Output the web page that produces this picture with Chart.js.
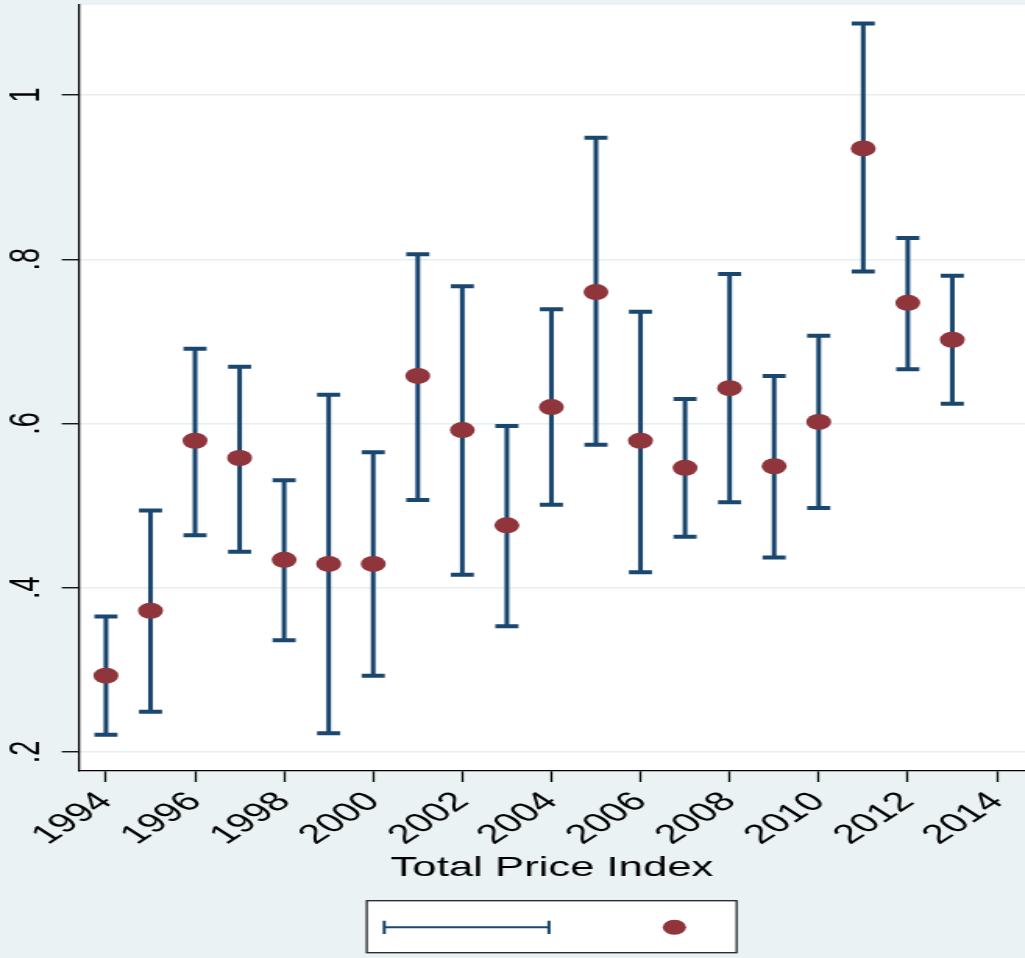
<!DOCTYPE html>
<html>
<head>
<meta charset="utf-8">
<script src="https://cdn.jsdelivr.net/npm/chart.js@4/dist/chart.umd.min.js"></script>
<style>
  html, body { margin: 0; padding: 0; background: #eaf2f3; overflow: hidden; }
  #wrap { width: 657px; height: 958px; transform: scaleX(1.56); transform-origin: 0 0; }
</style>
</head>
<body>
<div id="wrap"><canvas id="chart" width="657" height="958"></canvas></div>
<script>
// estimates by year, with upper / lower interval ends
const years = [1994, 1995, 1996, 1997, 1998, 1999, 2000, 2001, 2002, 2003,
  2004, 2005, 2006, 2007, 2008, 2009, 2010, 2011, 2012, 2013];
const estimate = [0.293, 0.372, 0.579, 0.558, 0.434, 0.429, 0.429, 0.658, 0.592, 0.476,
  0.620, 0.760, 0.579, 0.546, 0.643, 0.548, 0.602, 0.935, 0.747, 0.702];
const upper = [0.365, 0.494, 0.691, 0.669, 0.531, 0.635, 0.565, 0.806, 0.767, 0.597,
  0.739, 0.948, 0.736, 0.630, 0.782, 0.658, 0.707, 1.087, 0.826, 0.780];
const lower = [0.221, 0.249, 0.464, 0.444, 0.336, 0.223, 0.293, 0.507, 0.416, 0.353,
  0.501, 0.574, 0.419, 0.462, 0.504, 0.437, 0.497, 0.785, 0.666, 0.624];

const xTicks = [1994, 1996, 1998, 2000, 2002, 2004, 2006, 2008, 2010, 2012, 2014];
const yTicks = [0.2, 0.4, 0.6, 0.8, 1];
const yTickLabels = [".2", ".4", ".6", ".8", "1"];

const navy = "#1a476f";
const maroon = "#90353b";
const font = "'Liberation Sans', Arial, Helvetica, sans-serif";

const plotBg = {
  id: 'plotBg',
  beforeDraw(chart) {
    const {ctx, chartArea: a} = chart;
    ctx.save();
    ctx.fillStyle = "#ffffff";
    ctx.fillRect(a.left, a.top, a.right - a.left, a.bottom - a.top);
    ctx.restore();
  }
};

const errorBars = {
  id: 'errorBars',
  beforeDatasetsDraw(chart) {
    const {ctx, scales: {x, y}} = chart;
    ctx.save();
    ctx.strokeStyle = navy;
    for (let i = 0; i < years.length; i++) {
      const px = x.getPixelForValue(years[i]);
      const top = y.getPixelForValue(upper[i]);
      const bot = y.getPixelForValue(lower[i]);
      ctx.lineWidth = 3;
      ctx.beginPath();
      ctx.moveTo(px, top);
      ctx.lineTo(px, bot);
      ctx.stroke();
      ctx.lineWidth = 4;
      ctx.beginPath();
      ctx.moveTo(px - 7.4, top);
      ctx.lineTo(px + 7.4, top);
      ctx.moveTo(px - 7.4, bot);
      ctx.lineTo(px + 7.4, bot);
      ctx.stroke();
    }
    ctx.restore();
  }
};

// stata-like legend box, no labels
const keyBox = {
  id: 'keyBox',
  afterDraw(chart) {
    const ctx = chart.ctx;
    ctx.save();
    ctx.fillStyle = "#ffffff";
    ctx.fillRect(235.1, 900.7, 237.1, 52);
    ctx.strokeStyle = "#222";
    ctx.lineWidth = 1.3;
    ctx.strokeRect(235.1, 900.7, 237.1, 52);

    ctx.strokeStyle = navy;
    ctx.lineWidth = 2;
    ctx.beginPath();
    ctx.moveTo(246.3, 927.3);
    ctx.lineTo(351.9, 927.3);
    ctx.stroke();
    ctx.beginPath();
    ctx.moveTo(246.3, 920.7);
    ctx.lineTo(246.3, 933.9);
    ctx.moveTo(351.9, 920.7);
    ctx.lineTo(351.9, 933.9);
    ctx.stroke();

    ctx.fillStyle = maroon;
    ctx.beginPath();
    ctx.arc(432.3, 927.3, 7.5, 0, Math.PI * 2);
    ctx.fill();
    ctx.restore();
  }
};

new Chart(document.getElementById("chart"), {
  type: "scatter",
  plugins: [plotBg, errorBars, keyBox],
  data: {
    datasets: [{
      label: "estimate",
      data: years.map((yr, i) => ({x: yr, y: estimate[i]})),
      backgroundColor: maroon,
      borderWidth: 0,
      pointRadius: 8,
      pointHoverRadius: 8
    }]
  },
  options: {
    responsive: false,
    animation: false,
    devicePixelRatio: 1,
    layout: {
      autoPadding: false,
      padding: {top: 5, right: 0, left: 0, bottom: 73.2}
    },
    plugins: {
      legend: {display: false},
      tooltip: {enabled: false}
    },
    scales: {
      x: {
        type: "linear",
        min: 1993.394,
        max: 2014.63,
        afterBuildTicks: s => { s.ticks = xTicks.map(v => ({value: v})); },
        afterFit: s => { s.height = 113.8; s.paddingLeft = 0; s.paddingRight = 0; },
        border: {display: true, color: "#000", width: 1.3},
        grid: {drawOnChartArea: false, drawTicks: true, tickLength: 11, tickColor: "#000", tickWidth: 1.3},
        ticks: {
          minRotation: 45,
          maxRotation: 45,
          padding: 4,
          color: "#000",
          font: {family: font, size: 27},
          callback: v => String(v)
        },
        title: {
          display: true,
          text: "Total Price Index",
          color: "#000",
          padding: {top: 0, bottom: 0},
          font: {family: font, size: 28}
        }
      },
      y: {
        min: 0.1769,
        max: 1.1096,
        afterBuildTicks: s => { s.ticks = yTicks.map(v => ({value: v})); },
        afterFit: s => { s.width = 50.6; s.paddingTop = 0; s.paddingBottom = 0; },
        border: {display: true, color: "#000", width: 1.3},
        grid: {color: "#e6eef0", lineWidth: 1.5, drawTicks: true, tickLength: 11, tickColor: "#000", tickWidth: 1.3},
        ticks: {
          minRotation: 90,
          maxRotation: 90,
          crossAlign: "center",
          padding: 10.7,
          color: "#000",
          font: {family: font, size: 27},
          callback: (v, i) => yTickLabels[i]
        }
      }
    }
  }
});
</script>
</body>
</html>
